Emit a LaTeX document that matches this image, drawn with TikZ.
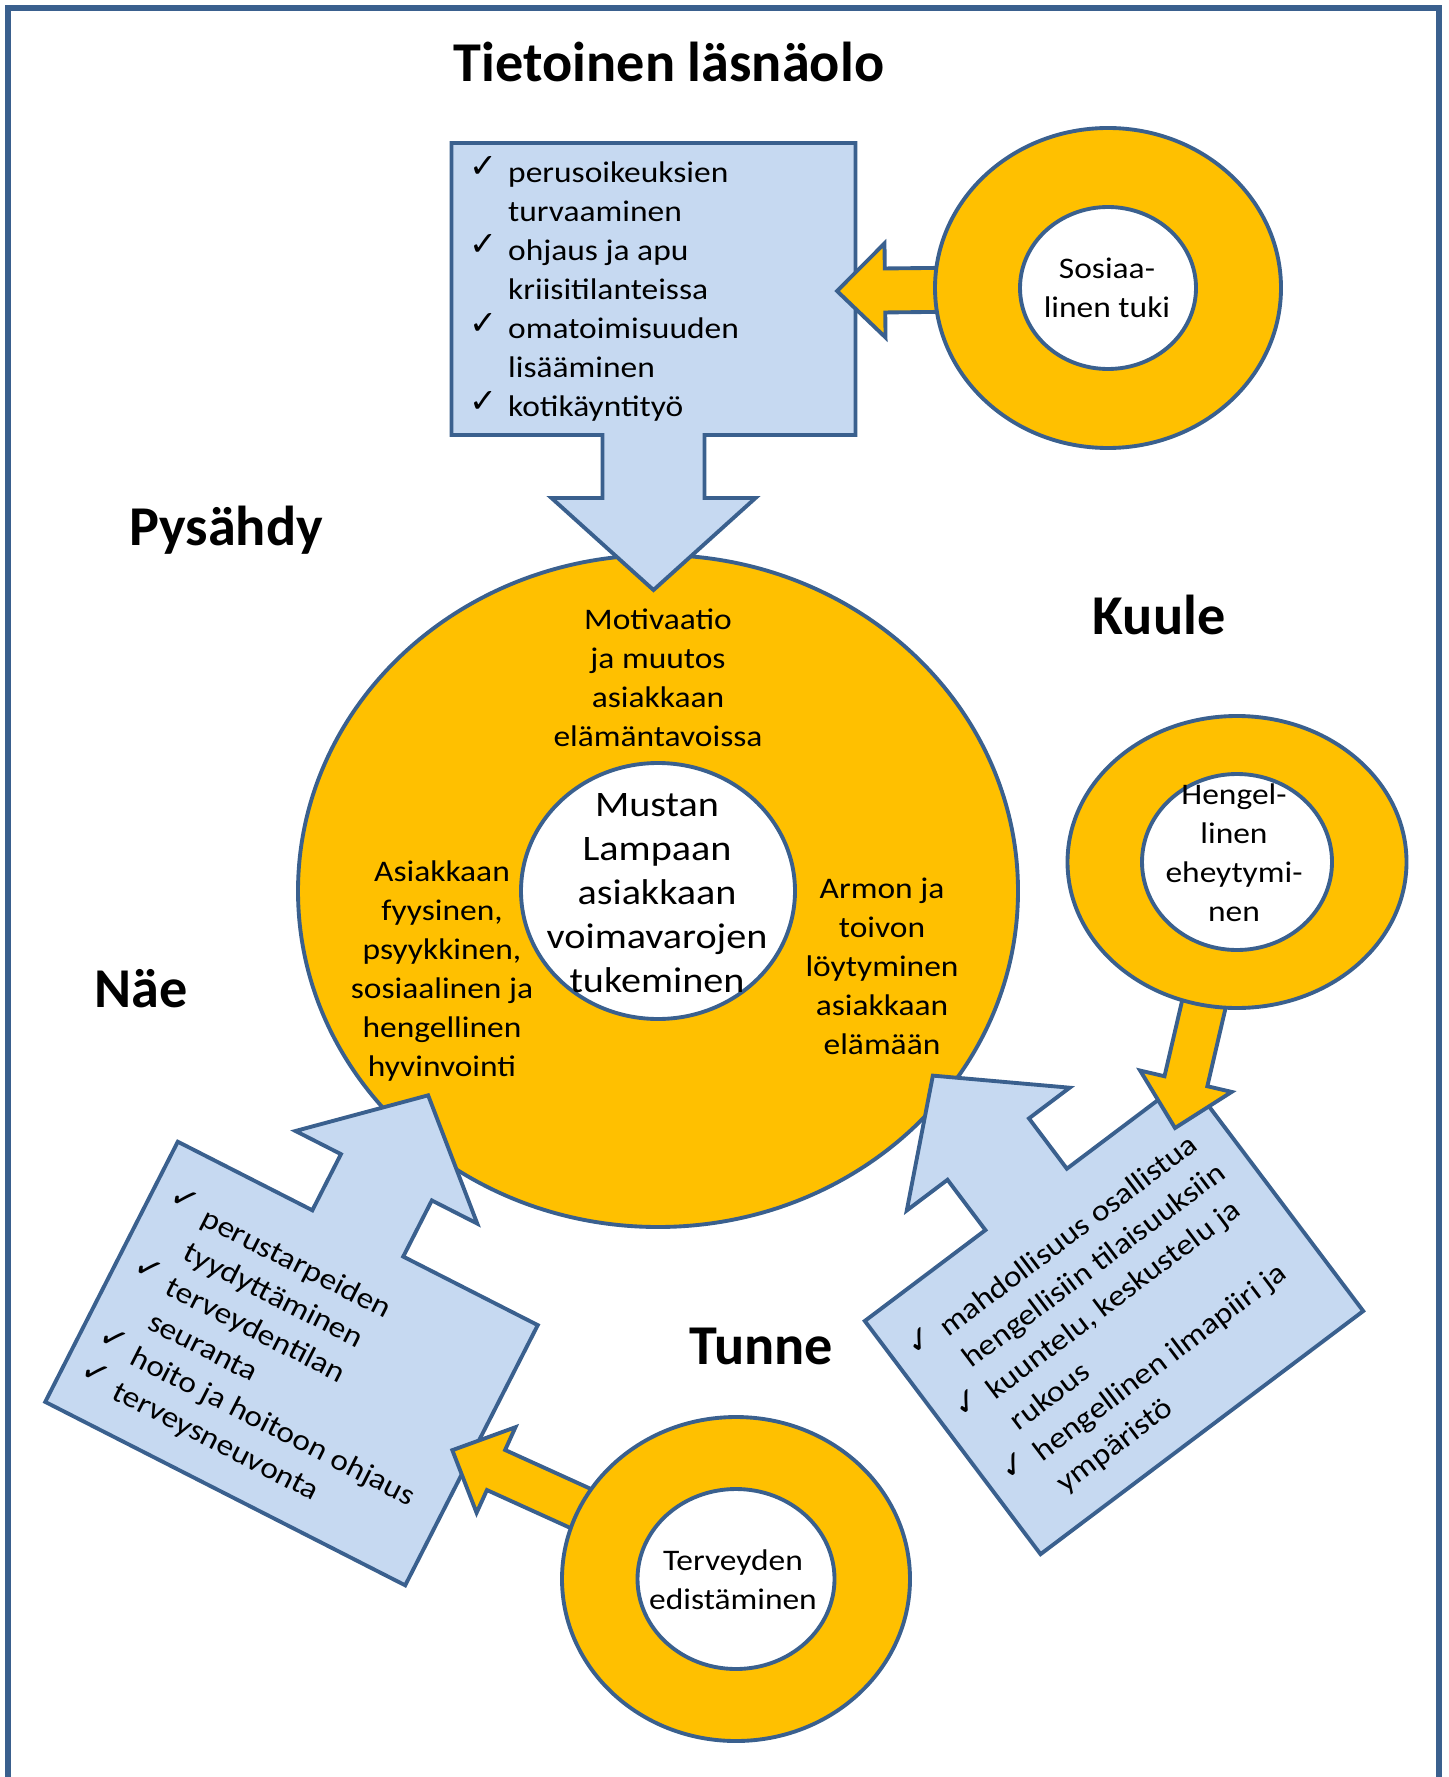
\documentclass[tikz,border=0pt]{standalone}
\usepackage{fontspec}
\setmainfont{Carlito}[FakeStretch=1.12]
\newfontfamily\otsikkofontti{Carlito}
\newfontfamily\merkkifontti{DejaVu Sans}
\usetikzlibrary{shapes.geometric,calc}
\pgfdeclarelayer{etu}
\pgfsetlayers{main,etu}

% rastimerkki listan rivin eteen
\newcommand{\ok}{\llap{\raisebox{1.2pt}{\merkkifontti\fontsize{9.5}{10}\selectfont ✓}\hspace{3pt}}}

% laatikko, jonka ylareunassa nuoli
\newcommand{\nuolilaatikko}{%
  \draw[laatikko] (-202,-146) -- (-51,-146) -- (-51,-209) -- (-102,-209)
    -- (0,-301) -- (102,-209) -- (51,-209) -- (51,-146) -- (202,-146)
    -- (202,146) -- (-202,146) -- cycle;}

% keltainen nuoli renkaasta karkeen
\newcommand{\keltanuoli}[2]{%
  \path let \p1=($(#2)-(#1.center)$) in
    \pgfextra{\pgfmathsetmacro{\nkulma}{atan2(\y1,\x1)}%
      \pgfmathsetmacro{\npituus}{veclen(\x1,\y1)}%
      \xdef\nkulma{\nkulma}\xdef\npituus{\npituus}};
  \begin{scope}[shift={(#1.center)}, rotate=\nkulma]
    \draw[nuoli] (0pt,-2.2mm) -- ({\npituus pt-4.8mm},-2.2mm)
      -- ({\npituus pt-4.8mm},-4.7mm) -- ({\npituus pt},0pt)
      -- ({\npituus pt-4.8mm},4.7mm) -- ({\npituus pt-4.8mm},2.2mm)
      -- (0pt,2.2mm) -- cycle;
  \end{scope}}

\begin{document}
\begin{tikzpicture}[x=0.1mm, y=-0.1mm]
\definecolor{reuna}{RGB}{58,96,142}
\definecolor{keltainen}{RGB}{255,192,0}
\definecolor{vaaleansininen}{RGB}{198,217,241}
\tikzset{
  kehys/.style={draw=reuna, line width=1.7pt},
  laatikko/.style={draw=reuna, fill=vaaleansininen, line width=1.1pt},
  nuoli/.style={draw=reuna, fill=keltainen, line width=1.1pt},
  rengas/.style={ellipse, draw=reuna, fill=keltainen, line width=1.1pt, inner sep=0pt},
  sisarengas/.style={ellipse, draw=reuna, fill=white, line width=1.1pt, inner sep=0pt},
  otsikko/.style={font=\otsikkofontti\bfseries\fontsize{16}{19}\selectfont, anchor=base, inner sep=0pt},
  pieni/.style={font=\fontsize{8.5}{11.1}\selectfont, align=center, inner sep=0pt},
  lista/.style={font=\fontsize{8.5}{11.1}\selectfont, align=left, anchor=west, inner sep=0pt},
  keskus/.style={font=\fontsize{10.2}{12.5}\selectfont, align=center, inner sep=0pt}
}
\useasboundingbox (0,0) rectangle (1448,1777);
% kehys
\draw[kehys] (8,1800) -- (8,8) -- (1439,8) -- (1439,1800);

% iso ympyra
\node[rengas, minimum width=72mm, minimum height=67.2mm] (iso) at (658,891) {};
\node[sisarengas, minimum width=27.4mm, minimum height=25.6mm] (keski) at (658,891) {};
\node[keskus] (keskiTeksti) at (657,893) {Mustan\\Lampaan\\asiakkaan\\voimavarojen\\tukeminen};
\node[pieni] (motivaatio) at (658,678) {Motivaatio\\ja muutos\\asiakkaan\\elämäntavoissa};
\node[pieni] (hyvinvointi) at (442,971) {Asiakkaan\\fyysinen,\\psyykkinen,\\sosiaalinen ja\\hengellinen\\hyvinvointi};
\node[pieni] (armo) at (882,966) {Armon ja\\toivon\\löytyminen\\asiakkaan\\elämään};

% otsikot
\node[otsikko] (tietoinen) at (669,82) {Tietoinen läsnäolo};
\node[otsikko] (pysahdy) at (226,545) {Pysähdy};
\node[otsikko] (kuule) at (1159,634) {Kuule};
\node[otsikko] (nae) at (141,1007) {Näe};
\node[otsikko] (tunne) at (761,1364) {Tunne};

% laatikot
\begin{scope}[shift={(653.5,289)}, yscale=-1]
  \nuolilaatikko
  \node[lista] (perusoikeudet) at (-146,0) {\ok perusoikeuksien\\turvaaminen\\\ok ohjaus ja apu\\kriisitilanteissa\\\ok omatoimisuuden\\lisääminen\\\ok kotikäyntityö};
\end{scope}
\begin{scope}[shift={(291.5,1363.5)}, rotate=-27]
  \nuolilaatikko
  \node[lista, transform shape] (perustarpeet) at (-146,5) {\ok perustarpeiden\\tyydyttäminen\\\ok terveydentilan\\seuranta\\\ok hoito ja hoitoon ohjaus\\\ok terveysneuvonta};
\end{scope}
\begin{scope}[shift={(1114,1316)}, rotate=37]
  \nuolilaatikko
  \node[lista, transform shape] (hengellisyys) at (-146,5) {\ok mahdollisuus osallistua\\hengellisiin tilaisuuksiin\\\ok kuuntelu, keskustelu ja\\rukous\\\ok hengellinen ilmapiiri ja\\ympäristö};
\end{scope}

% renkaat
\begin{pgfonlayer}{etu}
\node[rengas, minimum width=34.6mm, minimum height=32mm] (sosiaali) at (1108,288) {};
\node[sisarengas, minimum width=17.6mm, minimum height=16.2mm] (sosiaaliSisa) at (sosiaali) {};
\node[pieni] (sosiaaliTeksti) at (1107,288) {Sosiaa-\\linen tuki};
\node[rengas, minimum width=33.9mm, minimum height=29.2mm] (hengellinen) at (1237,862) {};
\node[sisarengas, minimum width=19mm, minimum height=17.6mm] (hengellinenSisa) at (hengellinen) {};
\node[pieni] (hengellinenTeksti) at (1234,853) {Hengel-\\linen\\eheytymi-\\nen};
\node[rengas, minimum width=34.8mm, minimum height=32.4mm] (terveys) at (736,1579) {};
\node[sisarengas, minimum width=19.7mm, minimum height=18mm] (terveysSisa) at (terveys) {};
\node[pieni] (terveysTeksti) at (733,1580) {Terveyden\\edistäminen};
\end{pgfonlayer}

% nuolet renkaista
\coordinate (sosKarki) at (837,291);
\coordinate (hengKarki) at (1175,1128);
\coordinate (terKarki) at (452,1450);
\keltanuoli{sosiaali}{sosKarki}
\keltanuoli{hengellinen}{hengKarki}
\keltanuoli{terveys}{terKarki}

\end{tikzpicture}
\end{document}
